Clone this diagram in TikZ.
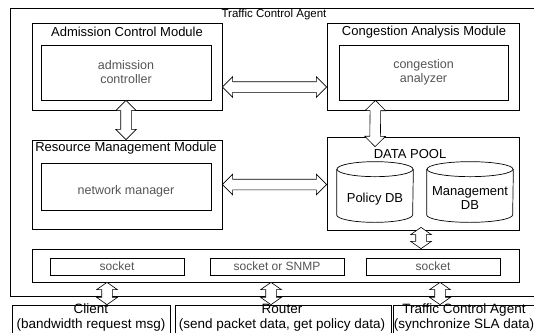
\documentclass[tikz,border=0pt]{standalone}
\usepackage{fontspec}
\setmainfont{Liberation Sans}
\usetikzlibrary{calc, positioning, shapes.arrows}

\definecolor{softgray}{gray}{0.33}

% wide two-headed arrow between two points
\newcommand{\fatlink}[3][]{%
  \path let \p1=(#2), \p2=(#3),
    \n1={veclen(\x2-\x1,\y2-\y1)}, \n2={atan2(\y2-\y1,\x2-\x1)} in
    node[fat, #1, minimum height=\n1, rotate=\n2] at ({(\x1+\x2)/2},{(\y1+\y2)/2}) {};}

% database drum round a node: name, half width
\newcommand{\dbdrum}[2]{%
  \draw[fill=white] ([yshift=-7.5bp]#1.north) ellipse [x radius=#2, y radius=7.5bp];
  \draw ([yshift=-7.5bp]#1.north west) -- ([yshift=7.5bp]#1.south west)
    arc[start angle=180, end angle=360, x radius=#2, y radius=7.5bp]
    -- ([yshift=-7.5bp]#1.north east);}

\begin{document}
\begin{tikzpicture}[x=1bp, y=-1bp, line width=0.7bp,
    box/.style={rectangle, draw, inner sep=0pt},
    title/.style={font=\fontsize{13bp}{15bp}\selectfont},
    soft/.style={text=softgray, align=center, font=\fontsize{12.5bp}{14bp}\selectfont},
    sock/.style={box, minimum width=134bp, minimum height=17bp, text=softgray, font=\fontsize{12bp}{14bp}\selectfont},
    dbtext/.style={align=center, font=\fontsize{13bp}{14bp}\selectfont},
    party/.style={align=center, font=\fontsize{13.5bp}{14.5bp}\selectfont},
    fat/.style={double arrow, draw, fill=white, line width=0.6bp, inner sep=0pt, inner ysep=5bp,
      double arrow head extend=5bp, double arrow tip angle=90},
    short/.style={double arrow tip angle=110}]
    \useasboundingbox (0,0) rectangle (534,332);
    \clip (0,0) rectangle (534,332);

    \node[box, minimum width=526bp, minimum height=288bp] (tca) at (273,152) {};
    \node[font=\fontsize{11.5bp}{13bp}\selectfont] (tcatitle) at (274,15) {Traffic Control Agent};

    \node[box, minimum width=190bp, minimum height=87bp] (acm) at (127,66.5) {};
    \node[title] (acmtitle) at (127,32) {Admission Control Module};
    \node[box, soft, minimum width=170bp, minimum height=55bp] (acin) at (126,72.5) {admission\\controller};

    \node[box, minimum width=192bp, minimum height=87bp] (cam) at (423,66.5) {};
    \node[title] (camtitle) at (424,32) {Congestion Analysis Module};
    \node[box, soft, minimum width=169bp, minimum height=55bp] (cain) at (423.5,72.5) {congestion\\analyzer};

    \node[box, minimum width=190bp, minimum height=89bp] (rmm) at (127,184.5) {};
    \node[title] (rmmtitle) at (126,148) {Resource Management Module};
    \node[box, minimum width=170bp, minimum height=47bp] (rmin) at (126,186.5) {};
    \node[soft] (rmtext) at (126,191) {network manager};

    \node[box, minimum width=192bp, minimum height=93bp] (pool) at (423,183.5) {};
    \node[title] (pooltitle) at (410,154) {DATA POOL};
    \node[minimum width=76bp, minimum height=60bp, inner sep=0pt] (policy) at (375,192) {};
    \node[minimum width=86bp, minimum height=60bp, inner sep=0pt] (mgmt) at (470,192) {};
    \dbdrum{policy}{38bp}
    \dbdrum{mgmt}{43bp}
    \node[dbtext] (policytext) at (375,199) {Policy DB};
    \node[dbtext] (mgmttext) at (470,198) {Management\\DB};

    \node[box, minimum width=487bp, minimum height=33bp] (bar) at (275.5,265.5) {};
    \node[sock] (sock1) at (117,266.5) {socket};
    \node[sock] (sock2) at (277,266.5) {socket or SNMP};
    \node[sock] (sock3) at (433,266.5) {socket};

    \node[box, minimum width=158bp, minimum height=40bp] (client) at (91,325) {};
    \node[box, minimum width=216bp, minimum height=40bp] (router) at (283,325) {};
    \node[box, minimum width=142bp, minimum height=40bp] (agent) at (464,325) {};
    \node[party] (clienttext) at (91,317.5) {Client\\(bandwidth request msg)};
    \node[party] (routertext) at (282,317.5) {Router\\(send packet data, get policy data)};
    \node[party] (agenttext) at (464,317.5) {Traffic Control Agent\\(synchronize SLA data)};

    \fatlink{[yshift=-20.5bp]acm.east}{[yshift=-20.5bp]cam.west}
    \fatlink{acin.south}{acin.south |- rmm.north}
    \fatlink{rmm.east}{rmm.east -| pool.west}
    \fatlink{[xshift=-48bp]cain.south}{[xshift=-48bp,yshift=-10bp]pool.north}
    \fatlink[short]{[xshift=-2bp,yshift=3bp]pool.south}{[xshift=-2bp]pool.south |- bar.north}
    \fatlink[short]{[xshift=16bp]client.north}{[xshift=16bp]client.north |- bar.south}
    \fatlink[short]{[xshift=-12bp]router.north}{[xshift=-12bp]router.north |- bar.south}
    \fatlink[short]{[xshift=-24bp]agent.north}{[xshift=-24bp]agent.north |- bar.south}
\end{tikzpicture}
\end{document}
